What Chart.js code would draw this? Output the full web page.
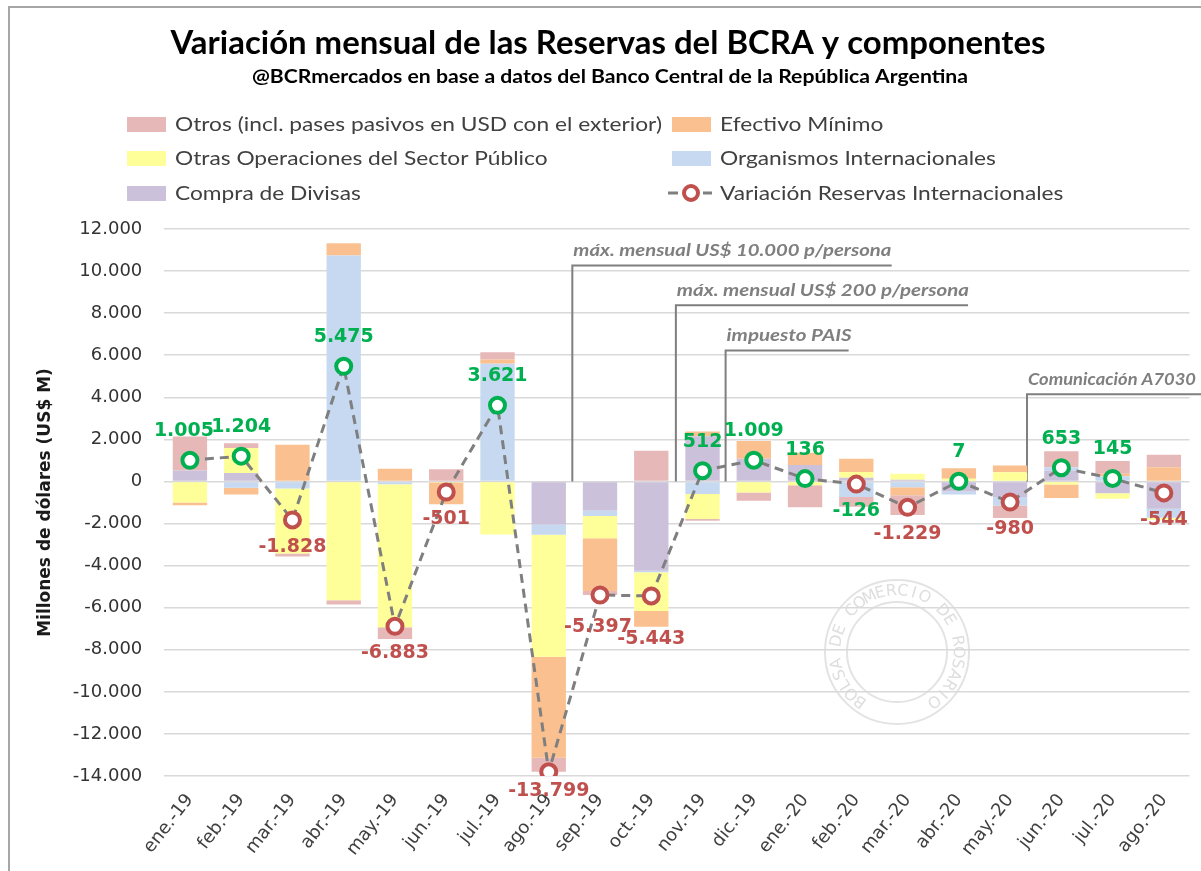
<!DOCTYPE html>
<html>
<head>
<meta charset="utf-8">
<script src="https://cdn.jsdelivr.net/npm/chart.js@4.4.0/dist/chart.umd.min.js"></script>
<style>
html, body { margin: 0; padding: 0; background: #fff; }
#wrap { width: 1201px; height: 871px; }
</style>
</head>
<body>
<div id="wrap"><canvas id="myChart" width="1201" height="871"></canvas></div>
<script>
// months
var months = ['ene.-19', 'feb.-19', 'mar.-19', 'abr.-19', 'may.-19', 'jun.-19', 'jul.-19', 'ago.-19', 'sep.-19', 'oct.-19',
  'nov.-19', 'dic.-19', 'ene.-20', 'feb.-20', 'mar.-20', 'abr.-20', 'may.-20', 'jun.-20', 'jul.-20', 'ago.-20'];

// components (millones de USD)
var compraDivisas = [520, 400, 0, 0, 0, 0, 0, -2040, -1380, -4240, 2150, 1080, 780, 180, 80, -480, -740, 520, -560, -1300];
var organismos = [0, -300, -330, 10740, -130, 0, 5600, -490, -260, -80, -600, 0, 0, -740, -280, -143, -400, 160, 250, -420];
var otrasOperaciones = [-1000, 1190, -3090, -5650, -6800, -50, -2519, -5800, -1060, -1840, -1190, -530, -180, 270, 290, 130, 440, -150, -265, -94];
var efectivoMinimo = [-135, -316, 1740, 580, 600, -1031, 200, -4800, -2510, -740, 230, 840, 580, 630, -370, 500, 320, -637, 120, 680];
var otros = [1620, 230, -148, -195, -553, 580, 340, -669, -187, 1457, -78, -381, -1044, -466, -949, 0, -600, 760, 600, 590];
var variacion = [1005, 1204, -1828, 5475, -6883, -501, 3621, -13799, -5397, -5443, 512, 1009, 136, -126, -1229, 7, -980, 653, 145, -544];

var yTicks = [-14000, -12000, -10000, -8000, -6000, -4000, -2000, 0, 2000, 4000, 6000, 8000, 10000, 12000];

// notes on the chart (x as category index, level in US$ M)
var noteText = ['máx. mensual US$ 10.000 p/persona', 'máx. mensual US$ 200 p/persona', 'impuesto PAIS', 'Comunicación A7030'];
var noteFrom = [7.46, 9.48, 10.45, 16.33];
var noteTo = [13.69, 15.18, 12.85, 20.5];
var noteLevel = [10270, 8370, 6230, 4140];
var noteWidth = [318, 292, 125, 168];

var GREEN = '#00b050', RED = '#c0504d', GRAY = '#7f7f7f';
var colOtros = '#e6b9b8', colEfectivo = '#fac090', colOtras = '#ffff99', colOrg = '#c6d9f1', colCompra = '#ccc1da';

function fmt(n) {
  return (n < 0 ? '-' : '') + Math.abs(n).toString().replace(/\B(?=(\d{3})+(?!\d))/g, '.');
}

// draws text squeezed/stretched horizontally around x
function wideText(ctx, txt, x, y, sx) {
  ctx.save();
  ctx.translate(x, y);
  ctx.scale(sx, 1);
  ctx.fillText(txt, 0, 0);
  ctx.restore();
}

// faint seal in the background
function seal(ctx, cx, cy) {
  ctx.save();
  ctx.strokeStyle = '#e3e3e3';
  ctx.fillStyle = '#dedede';
  ctx.lineWidth = 2;
  ctx.beginPath(); ctx.arc(cx, cy, 72, 0, Math.PI * 2); ctx.stroke();
  ctx.beginPath(); ctx.arc(cx, cy, 50, 0, Math.PI * 2); ctx.stroke();
  var txt = 'BOLSA DE COMERCIO DE ROSARIO';
  ctx.font = '16px "DejaVu Sans", sans-serif';
  ctx.textAlign = 'center';
  ctx.textBaseline = 'middle';
  var a0 = -2.5, a1 = 2.5;
  for (var i = 0; i < txt.length; i++) {
    var a = a0 + (a1 - a0) * i / (txt.length - 1);
    ctx.save();
    ctx.translate(cx + Math.sin(a) * 61, cy - Math.cos(a) * 61);
    ctx.rotate(a);
    ctx.fillText(txt[i], 0, 0);
    ctx.restore();
  }
  ctx.restore();
}

var decor = {
  id: 'decor',
  beforeDraw: function (chart) {
    var ctx = chart.ctx;
    ctx.save();
    // frame
    ctx.strokeStyle = '#a6a6a6';
    ctx.lineWidth = 2;
    ctx.beginPath();
    ctx.moveTo(9, 871); ctx.lineTo(9, 7); ctx.lineTo(1201, 7);
    ctx.stroke();
    // title
    ctx.fillStyle = '#000';
    ctx.textAlign = 'center';
    ctx.textBaseline = 'middle';
    var t = 'Variación mensual de las Reservas del BCRA y componentes';
    ctx.font = 'bold 33px Lato, sans-serif';
    wideText(ctx, t, 608, 43, 875 / ctx.measureText(t).width);
    var s = '@BCRmercados en base a datos del Banco Central de la República Argentina';
    ctx.font = 'bold 18px Lato, sans-serif';
    wideText(ctx, s, 610, 77, 716 / ctx.measureText(s).width);
    // legend
    var items = [
      ['Otros (incl. pases pasivos en USD con el exterior)', colOtros, 127, 124],
      ['Efectivo Mínimo', colEfectivo, 672, 124],
      ['Otras Operaciones del Sector Público', colOtras, 127, 158],
      ['Organismos Internacionales', colOrg, 672, 158],
      ['Compra de Divisas', colCompra, 127, 193]
    ];
    ctx.font = '20px Lato, sans-serif';
    ctx.textAlign = 'left';
    var lsx = 487 / ctx.measureText(items[0][0]).width;
    items.forEach(function (it) {
      ctx.fillStyle = it[1];
      ctx.fillRect(it[2], it[3] - 7, 39, 15);
      ctx.fillStyle = '#404040';
      wideText(ctx, it[0], it[2] + 48, it[3] + 1, lsx);
    });
    // line legend
    ctx.strokeStyle = GRAY; ctx.lineWidth = 3;
    ctx.beginPath(); ctx.moveTo(668, 193); ctx.lineTo(678, 193); ctx.moveTo(703, 193); ctx.lineTo(712, 193); ctx.stroke();
    ctx.strokeStyle = RED; ctx.lineWidth = 4; ctx.fillStyle = '#fff';
    ctx.beginPath(); ctx.arc(691, 193, 7, 0, Math.PI * 2); ctx.fill(); ctx.stroke();
    ctx.fillStyle = '#404040';
    wideText(ctx, 'Variación Reservas Internacionales', 720, 194, lsx);
    ctx.restore();
    seal(ctx, 897, 652);
  },
  beforeDatasetsDraw: function (chart) {
    var ctx = chart.ctx, xs = chart.scales.x, ys = chart.scales.y;
    ctx.save();
    ctx.strokeStyle = GRAY;
    ctx.lineWidth = 2;
    ctx.fillStyle = GRAY;
    ctx.font = 'italic bold 17px Lato, sans-serif';
    ctx.textAlign = 'left';
    ctx.textBaseline = 'alphabetic';
    for (var i = 0; i < noteText.length; i++) {
      var x0 = xs.getPixelForValue(noteFrom[i]);
      var x1 = xs.getPixelForValue(noteTo[i]);
      var y0 = ys.getPixelForValue(0);
      var y1 = ys.getPixelForValue(noteLevel[i]);
      ctx.beginPath();
      ctx.moveTo(x0, y0); ctx.lineTo(x0, y1); ctx.lineTo(x1, y1);
      ctx.stroke();
      wideText(ctx, noteText[i], x0 + 1, y1 - 9, noteWidth[i] / ctx.measureText(noteText[i]).width);
    }
    ctx.restore();
  },
  afterDraw: function (chart) {
    var ctx = chart.ctx;
    var meta = chart.getDatasetMeta(0);
    ctx.save();
    ctx.font = 'bold 19px "DejaVu Sans", sans-serif';
    ctx.textAlign = 'center';
    ctx.textBaseline = 'middle';
    meta.data.forEach(function (pt, i) {
      var v = variacion[i];
      var up = v >= 0;
      var dx = 0;
      var dy = up ? -29 : 27;
      if (v === 1005) dx = -6;
      if (v === -13799) dy = 19;
      if (v === -5443) dy = 43;
      if (v === -5397) { dy = 32; dx = -2; }
      ctx.fillStyle = (up || v === -126) ? GREEN : RED;
      ctx.fillText(fmt(v), pt.x + dx, pt.y + dy);
    });
    ctx.restore();
  }
};

var ctx = document.getElementById('myChart').getContext('2d');
var chart = new Chart(ctx, {
  type: 'bar',
  data: {
    labels: months,
    datasets: [{
      type: 'line',
      label: 'Variación Reservas Internacionales',
      data: variacion,
      stack: 'linea',
      borderColor: GRAY,
      borderWidth: 3,
      borderDash: [9, 6],
      pointRadius: 7.5,
      pointBorderWidth: 4,
      pointBackgroundColor: '#fff',
      pointBorderColor: variacion.map(function (v) { return v >= 0 ? GREEN : RED; }),
      tension: 0
    }, {
      label: 'Compra de Divisas', data: compraDivisas, backgroundColor: colCompra, stack: 'comp'
    }, {
      label: 'Organismos Internacionales', data: organismos, backgroundColor: colOrg, stack: 'comp'
    }, {
      label: 'Otras Operaciones del Sector Público', data: otrasOperaciones, backgroundColor: colOtras, stack: 'comp'
    }, {
      label: 'Efectivo Mínimo', data: efectivoMinimo, backgroundColor: colEfectivo, stack: 'comp'
    }, {
      label: 'Otros (incl. pases pasivos en USD con el exterior)', data: otros, backgroundColor: colOtros, stack: 'comp'
    }]
  },
  options: {
    responsive: false,
    animation: false,
    events: [],
    datasets: { bar: { barPercentage: 0.67, categoryPercentage: 1 } },
    layout: { padding: { top: 229, left: 0, right: 9, bottom: 0 } },
    plugins: {
      legend: { display: false },
      title: { display: false },
      tooltip: { enabled: false }
    },
    scales: {
      x: {
        stacked: true,
        grid: { display: false },
        border: { display: false },
        ticks: { color: '#404040', font: { family: 'DejaVu Sans', size: 18 }, maxRotation: 52, minRotation: 52, padding: 6 },
        afterFit: function (s) { s.height = 95; }
      },
      y: {
        stacked: true,
        min: -14000,
        max: 12000,
        afterBuildTicks: function (s) { s.ticks = yTicks.map(function (v) { return { value: v }; }); },
        grid: { color: '#d9d9d9', lineWidth: 1.5, drawTicks: false },
        border: { display: false },
        ticks: { color: '#333333', font: { family: 'DejaVu Sans', size: 18 }, padding: 22, callback: function (v) { return fmt(v); } },
        title: { display: true, text: 'Millones de dólares (US$ M)', color: '#1a1a1a', font: { family: 'DejaVu Sans', size: 17, weight: 'bold' }, padding: { top: 35, bottom: 0 } },
        afterFit: function (s) { s.width = 164.3; }
      }
    }
  },
  plugins: [decor]
});
</script>
</body>
</html>
